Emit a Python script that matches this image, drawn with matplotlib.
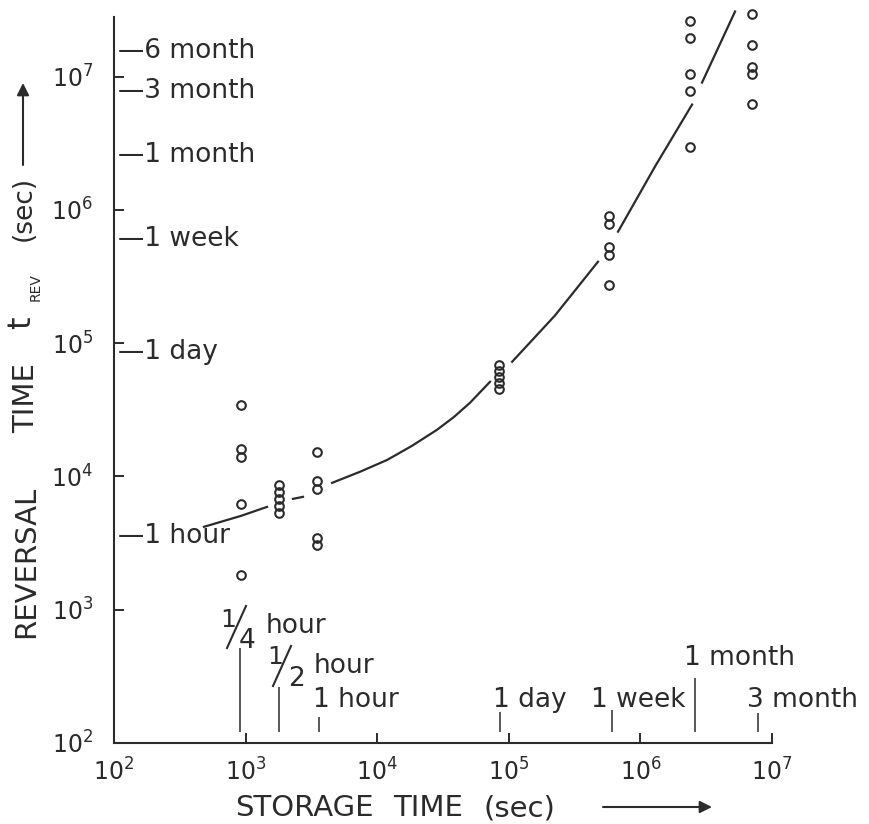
import matplotlib.pyplot as plt
import numpy as np
from matplotlib.lines import Line2D
from matplotlib.patches import FancyArrowPatch
from matplotlib.transforms import blended_transform_factory

W, H = 869, 824
INK = "#2b2b2b"

# storage time (s) of each measured column and the reversal times found there
storage_cols = [923, 1795, 3490, 84300, 577000, 2380000, 7050000]
reversal_vals = [
    [34500, 16100, 14000, 6230, 1825],
    [8650, 7660, 6790, 6020, 5330],
    [15300, 9270, 8070, 3460, 3065],
    [68900, 62100, 56000, 50400, 45500],
    [904000, 787000, 530000, 461000, 274000],
    [26300000, 19600000, 10500000, 7850000, 2980000],
    [29700000, 17400000, 11900000, 10500000, 6270000],
]

# hand-drawn trend curve, broken where it passes the data columns
curve_segments = [
    ([483, 923, 1455], [4190, 5060, 5910]),
    ([2290, 2730], [6790, 7030]),
    ([4540, 7400, 11900, 18400, 28500, 38400, 50700, 72000],
     [8950, 10840, 13300, 16980, 22400, 28000, 35700, 51300]),
    ([106000, 224000, 476000], [72500, 161000, 408000]),
    ([676000, 1290000, 2470000], [686000, 2110000, 6170000]),
    ([2940000, 5240000], [9020000, 30800000]),
]

# reference durations marked along the axes
x_mark_times = [900, 1800, 3600, 86400, 604800, 2592000, 7776000]
x_mark_tops = [517, 263, 157, 171, 177, 308, 168]
x_mark_bottom = 121

y_mark_times = [15552000, 7776000, 2592000, 604800, 86400, 3600]
y_mark_labels = ["6 month", "3 month", "1 month", "1 week", "1 day", "1 hour"]


def fx(px):
    return px / W


def fy(py):
    return 1 - py / H


fig = plt.figure(figsize=(W / 100, H / 100), dpi=100)
ax = fig.add_axes([fx(114), fy(743), fx(772) - fx(114), fy(17) - fy(743)])

ax.set_xscale("log")
ax.set_yscale("log")
ax.set_xlim(1e2, 1e7)
ax.set_ylim(1e2, 2.8e7)

for sx, vals in zip(storage_cols, reversal_vals):
    ax.plot([sx] * len(vals), vals, "o", ms=6.2, mfc="none", mec=INK, mew=1.5,
            clip_on=False)

for cx, cy in curve_segments:
    ax.plot(cx, cy, color=INK, lw=1.6, clip_on=False)

ax.vlines(x_mark_times, x_mark_bottom, x_mark_tops, color=INK, lw=1.1)

trans = blended_transform_factory(ax.transAxes, ax.transData)
for t, lab in zip(y_mark_times, y_mark_labels):
    ax.text(0.006, t, "\u2014" + lab, transform=trans, fontsize=19,
            color=INK, va="center", ha="left")

for s in ["top", "right"]:
    ax.spines[s].set_visible(False)
for s in ["left", "bottom"]:
    ax.spines[s].set_linewidth(1.5)
    ax.spines[s].set_color(INK)

ax.minorticks_off()
ax.tick_params(which="major", direction="in", length=7, width=1.4,
               color=INK, labelcolor=INK, labelsize=17)
ax.tick_params(axis="x", pad=11)
ax.tick_params(axis="y", pad=15)
ax.set_xticks([1e2, 1e3, 1e4, 1e5, 1e6, 1e7])
ax.set_yticks([1e2, 1e3, 1e4, 1e5, 1e6, 1e7])

# x-axis duration labels
fig.text(fx(313), fy(707), "1 hour", fontsize=19, color=INK, va="baseline")
fig.text(fx(493), fy(707), "1 day", fontsize=19, color=INK, va="baseline")
fig.text(fx(591), fy(707), "1 week", fontsize=19, color=INK, va="baseline")
fig.text(fx(684), fy(665), "1 month", fontsize=19, color=INK, va="baseline")
fig.text(fx(747), fy(707), "3 month", fontsize=19, color=INK, va="baseline")


def fraction(num, den, num_xy, den_xy, slash):
    fig.text(fx(num_xy[0]), fy(num_xy[1]), num, fontsize=18, color=INK,
             va="baseline", ha="center")
    fig.text(fx(den_xy[0]), fy(den_xy[1]), den, fontsize=19, color=INK,
             va="baseline", ha="center")
    (x0, y0), (x1, y1) = slash
    fig.add_artist(Line2D([fx(x0), fx(x1)], [fy(y0), fy(y1)], color=INK,
                          lw=1.5, transform=fig.transFigure))


fraction("1", "4", (228, 627), (247, 648), ((227, 648), (246, 606)))
fig.text(fx(266), fy(633), "hour", fontsize=19, color=INK, va="baseline")
fraction("1", "2", (275, 664), (297, 686), ((273, 686), (291, 646)))
fig.text(fx(314), fy(673), "hour", fontsize=19, color=INK, va="baseline")

# axis titles
fig.text(fx(235), fy(808), "STORAGE", fontsize=21, color=INK, va="center")
fig.text(fx(393), fy(808), "TIME", fontsize=21, color=INK, va="center")
fig.text(fx(484), fy(808), "(sec)", fontsize=21, color=INK, va="center")
fig.text(fx(26), fy(562), "REVERSAL", fontsize=21, color=INK, rotation=90,
         va="center", ha="center")
fig.text(fx(26), fy(398), "TIME", fontsize=21, color=INK, rotation=90,
         va="center", ha="center")
fig.text(fx(22), fy(323), "t", fontsize=23, color=INK, rotation=90,
         va="center", ha="center")
fig.text(fx(36), fy(287), "REV", fontsize=10, color=INK, rotation=90,
         va="center", ha="center")
fig.text(fx(24), fy(208), "(sec)", fontsize=19, color=INK, rotation=90,
         va="center", ha="center")

arrow = dict(arrowstyle="-|>", lw=1.5, color=INK, mutation_scale=18,
             shrinkA=0, shrinkB=0)
fig.add_artist(FancyArrowPatch((fx(603), fy(807)), (fx(712), fy(807)),
                               transform=fig.transFigure, **arrow))
fig.add_artist(FancyArrowPatch((fx(23), fy(165)), (fx(23), fy(83)),
                               transform=fig.transFigure, **arrow))

fig.savefig("out.png", dpi=100, facecolor="white")
